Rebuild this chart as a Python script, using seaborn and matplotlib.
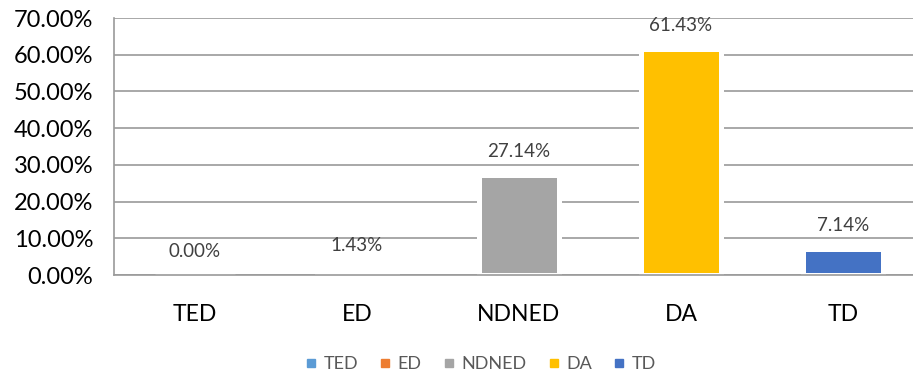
import matplotlib
matplotlib.use("Agg")
import matplotlib.pyplot as plt
from matplotlib.lines import Line2D
from matplotlib.ticker import FixedLocator, FuncFormatter
import seaborn as sns

# data
categories = ["TED", "ED", "NDNED", "DA", "TD"]
values = [0.00, 1.43, 27.14, 61.43, 7.14]
colors = ["#5B9BD5", "#ED7D31", "#A5A5A5", "#FFC000", "#4472C4"]
y_ticks = [0, 10, 20, 30, 40, 50, 60, 70]

sns.set_style("white")
plt.rcParams["font.family"] = ["Lato", "DejaVu Sans"]

fig = plt.figure(figsize=(9.13, 3.76), dpi=100)
ax = fig.add_axes([0.1249, 0.2686, 0.887, 0.6835])

sns.barplot(x=categories, y=values, hue=categories, palette=colors,
            saturation=1, width=0.49, legend=False, ax=ax,
            edgecolor="white", linewidth=3.6)

ax.set_xlim(-0.5, 4.5)
ax.set_ylim(0, 70)
ax.set_yticks(y_ticks)
ax.yaxis.set_major_formatter(FuncFormatter(lambda v, p: f"{v:.2f}%"))
ax.set_axisbelow(True)
ax.grid(axis="y", color="#9a9a9a", linewidth=1.2)
ax.grid(axis="x", visible=False)

for s in ["top", "right"]:
    ax.spines[s].set_visible(False)
for s in ["left", "bottom"]:
    ax.spines[s].set_color("#9a9a9a")
    ax.spines[s].set_linewidth(1.2)
    ax.spines[s].set_zorder(3)

ax.tick_params(axis="y", length=6, color="#9a9a9a", width=1.2,
               labelsize=17, labelcolor="black", pad=9)
ax.tick_params(axis="x", which="major", length=0, labelsize=16.5,
               labelcolor="black", pad=21)
ax.xaxis.set_minor_locator(FixedLocator([-0.5, 0.5, 1.5, 2.5, 3.5, 4.5]))
ax.tick_params(axis="x", which="minor", length=6, color="#9a9a9a", width=1.2)
ax.set_xlabel("")
ax.set_ylabel("")

for cont in ax.containers:
    ax.bar_label(cont, fmt="%.2f%%", padding=11, fontsize=13.5, color="#404040")

handles = [Line2D([], [], marker="s", linestyle="", markersize=5.5,
                  markerfacecolor=c, markeredgecolor=c) for c in colors]
fig.legend(handles, categories, loc="center", bbox_to_anchor=(479 / 913, 1 - 364 / 376),
           ncol=5, frameon=False, fontsize=13, labelcolor="#595959",
           handletextpad=0.2, columnspacing=1.0, handlelength=1.0)

fig.savefig("out.png", dpi=100)
